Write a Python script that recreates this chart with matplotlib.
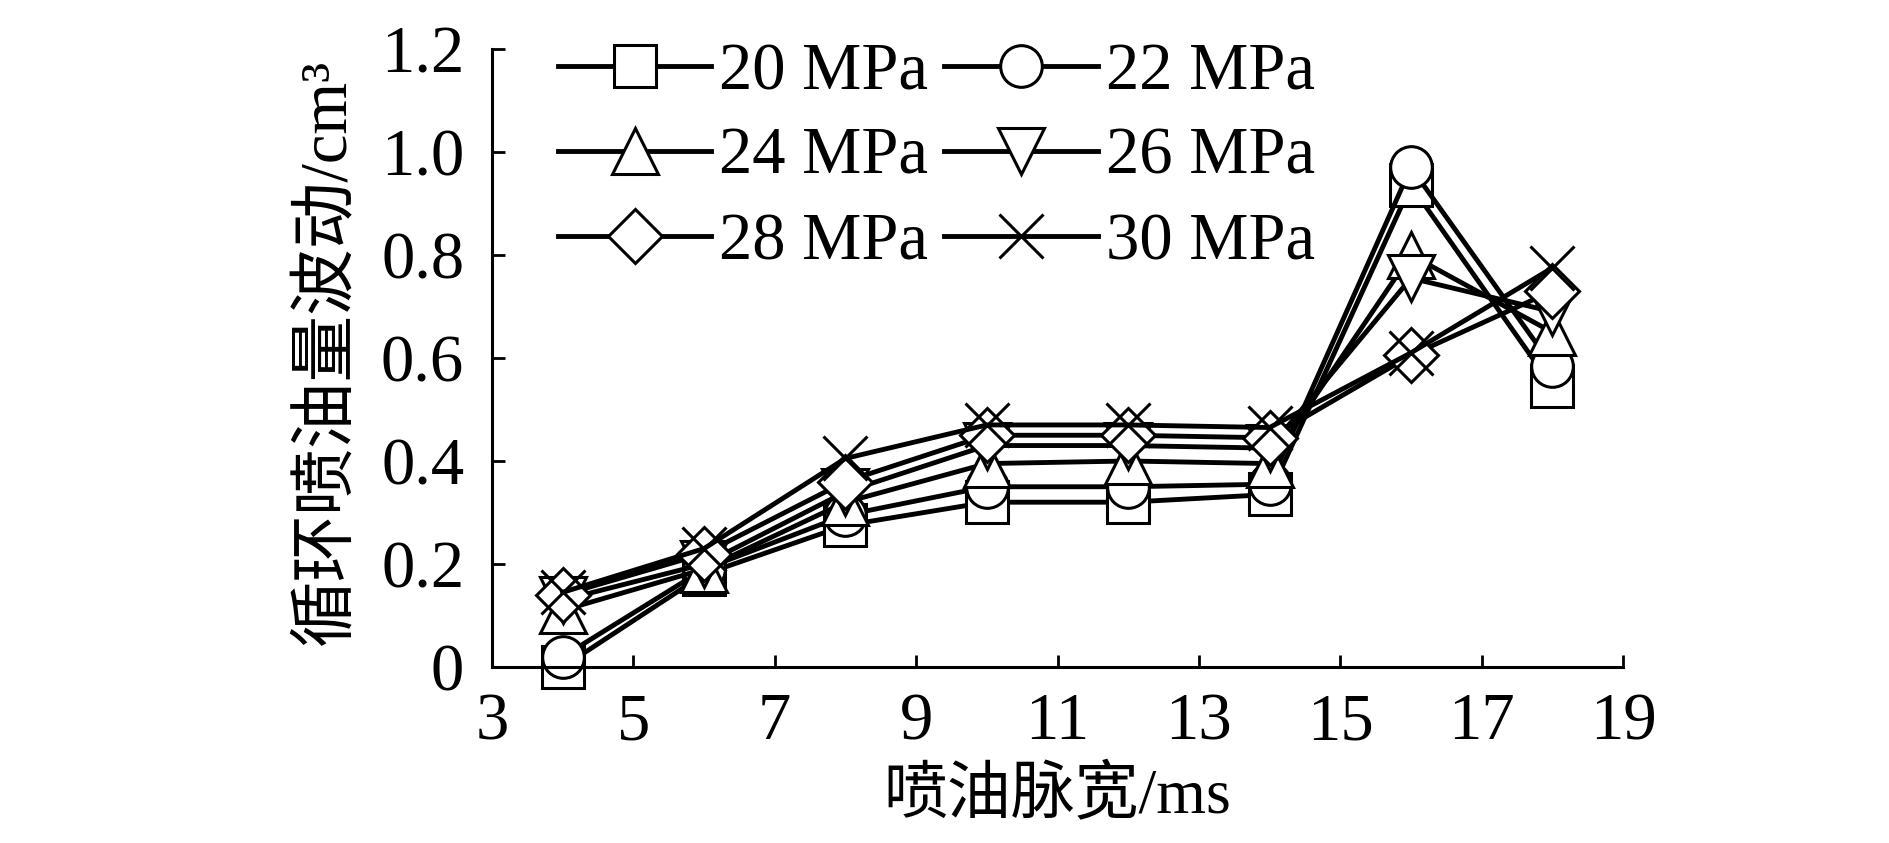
import matplotlib
matplotlib.use("Agg")
import matplotlib.pyplot as plt

# pulse width (ms)
pulse_width = [4, 6, 8, 10, 12, 14, 16, 18]

# cycle fuel volume fluctuation (cm3) per rail pressure
p20 = [0.00, 0.18, 0.275, 0.32, 0.32, 0.335, 0.935, 0.545]
p22 = [0.02, 0.19, 0.295, 0.35, 0.35, 0.355, 0.97, 0.585]
p24 = [0.11, 0.19, 0.32, 0.395, 0.40, 0.395, 0.80, 0.65]
p26 = [0.13, 0.20, 0.34, 0.43, 0.43, 0.425, 0.755, 0.69]
p28 = [0.14, 0.22, 0.36, 0.45, 0.45, 0.445, 0.605, 0.73]
p30 = [0.145, 0.23, 0.405, 0.47, 0.47, 0.465, 0.61, 0.775]

labels = ["20 MPa", "22 MPa", "24 MPa", "26 MPa", "28 MPa", "30 MPa"]
series = [p20, p22, p24, p26, p28, p30]
markers = ["s", "o", "^", "v", "D", "x"]
msizes = [30, 30, 33, 33, 27, 32]

x_ticks = [3, 5, 7, 9, 11, 13, 15, 17, 19]
y_ticks = [0, 0.2, 0.4, 0.6, 0.8, 1.0, 1.2]
y_ticklabels = ["0", "0.2", "0.4", "0.6", "0.8", "1.0", "1.2"]

FONT = ["Liberation Serif", "Noto Sans CJK SC", "DejaVu Sans"]
plt.rcParams["font.family"] = FONT

fig = plt.figure(figsize=(18.9, 8.43), dpi=100)
ax = fig.add_axes([492 / 1890, 1 - 667 / 843, 1131 / 1890, 618 / 843])

lines = []
for vals, lab, mk, ms in zip(series, labels, markers, msizes):
    ln, = ax.plot(pulse_width, vals, color="black", lw=3.5, marker=mk, ms=ms,
                  mfc="white", mec="black", mew=2.2, label=lab, clip_on=False)
    lines.append(ln)

ax.set_xlim(3, 19)
ax.set_ylim(0, 1.2)
ax.set_xticks(x_ticks)
ax.set_yticks(y_ticks)
ax.set_yticklabels(y_ticklabels)

for side in ["top", "right"]:
    ax.spines[side].set_visible(False)
for side in ["left", "bottom"]:
    ax.spines[side].set_linewidth(2.2)

ax.tick_params(direction="in", length=9, width=2, labelsize=48)
ax.tick_params(axis="x", pad=18)
ax.tick_params(axis="y", pad=20)

ax.set_xlabel("喷油脉宽/ms", fontsize=46)
ax.set_ylabel("循环喷油量波动/cm³", fontsize=48)
ax.xaxis.set_label_coords(0.5, -0.16)
ax.yaxis.set_label_coords(-0.117, 0.51)

# legend filled row by row: 20|22, 24|26, 28|30
order = [0, 2, 4, 1, 3, 5]
ax.legend([lines[i] for i in order], [labels[i] for i in order],
          ncol=2, frameon=False, fontsize=48, loc="upper left",
          bbox_to_anchor=(558 / 1890, 1 - 42 / 843),
          bbox_transform=fig.transFigure, borderpad=0, borderaxespad=0,
          handlelength=2.3, handletextpad=0.12, columnspacing=0.24,
          labelspacing=0.36)

fig.savefig("out.png", dpi=100)
